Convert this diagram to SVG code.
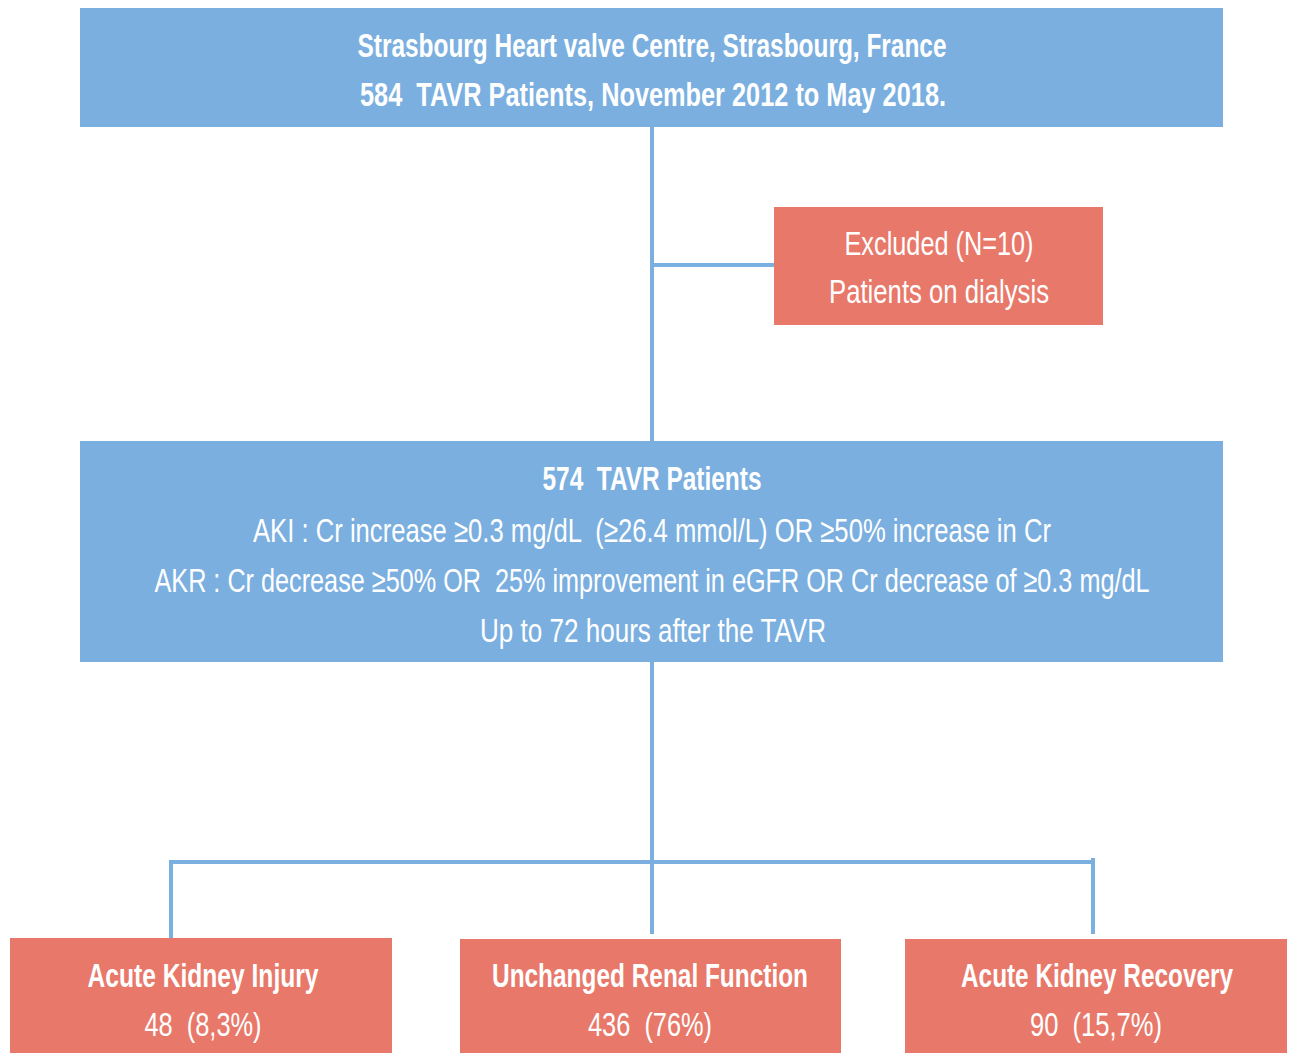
<svg xmlns="http://www.w3.org/2000/svg" width="1290" height="1053" viewBox="0 0 1290 1053">
<style>
.blue{fill:#7BAFDF}
.red{fill:#E8796A}
.t{font-family:"Liberation Sans",Arial,sans-serif;font-size:26px;fill:#fff;text-anchor:middle;white-space:pre}
.b{font-weight:bold}
.c{stroke:#7BAFDF;stroke-width:4;fill:none}
</style>
<rect width="1290" height="1053" fill="#fff"/>
<g id="connectors">
<line class="c" x1="652" y1="127" x2="652" y2="442"/>
<line class="c" x1="652" y1="265" x2="775" y2="265"/>
<line class="c" x1="652" y1="662" x2="652" y2="934"/>
<line class="c" x1="169" y1="862" x2="1094" y2="862" stroke-width="5"/>
<line class="c" x1="171" y1="860" x2="171" y2="939"/>
<line class="c" x1="1093" y1="858" x2="1093" y2="934"/>
</g>
<g id="top">
<rect class="blue" x="80" y="8" width="1143" height="119"/>
<text class="t b" transform="matrix(1,0,0,1.3,652,57)" textLength="589" lengthAdjust="spacingAndGlyphs">Strasbourg Heart valve Centre, Strasbourg, France</text>
<text class="t b" transform="matrix(1,0,0,1.3,653,106)" textLength="586" lengthAdjust="spacingAndGlyphs">584  TAVR Patients, November 2012 to May 2018.</text>
</g>
<g id="excluded">
<rect class="red" x="774" y="207" width="329" height="118"/>
<text class="t" transform="matrix(1,0,0,1.3,939,255)" textLength="189" lengthAdjust="spacingAndGlyphs">Excluded (N=10)</text>
<text class="t" transform="matrix(1,0,0,1.3,939,303)" textLength="220" lengthAdjust="spacingAndGlyphs">Patients on dialysis</text>
</g>
<g id="middle">
<rect class="blue" x="80" y="441" width="1143" height="221"/>
<text class="t b" transform="matrix(1,0,0,1.3,652,490)" textLength="219" lengthAdjust="spacingAndGlyphs">574  TAVR Patients</text>
<text class="t" transform="matrix(1,0,0,1.3,652,542)" textLength="798" lengthAdjust="spacingAndGlyphs">AKI : Cr increase ≥0.3 mg/dL  (≥26.4 mmol/L) OR ≥50% increase in Cr</text>
<text class="t" transform="matrix(1,0,0,1.3,652,592)" textLength="995" lengthAdjust="spacingAndGlyphs">AKR : Cr decrease ≥50% OR  25% improvement in eGFR OR Cr decrease of ≥0.3 mg/dL</text>
<text class="t" transform="matrix(1,0,0,1.3,653,642)" textLength="346" lengthAdjust="spacingAndGlyphs">Up to 72 hours after the TAVR</text>
</g>
<g id="aki">
<rect class="red" x="10" y="938" width="382" height="115"/>
<text class="t b" transform="matrix(1,0,0,1.3,203,987)" textLength="231" lengthAdjust="spacingAndGlyphs">Acute Kidney Injury</text>
<text class="t" transform="matrix(1,0,0,1.3,203,1036)" textLength="117" lengthAdjust="spacingAndGlyphs">48  (8,3%)</text>
</g>
<g id="unchanged">
<rect class="red" x="460" y="939" width="381" height="114"/>
<text class="t b" transform="matrix(1,0,0,1.3,650,987)" textLength="316" lengthAdjust="spacingAndGlyphs">Unchanged Renal Function</text>
<text class="t" transform="matrix(1,0,0,1.3,650,1036)" textLength="124" lengthAdjust="spacingAndGlyphs">436  (76%)</text>
</g>
<g id="akr">
<rect class="red" x="905" y="939" width="382" height="114"/>
<text class="t b" transform="matrix(1,0,0,1.3,1097,987)" textLength="272" lengthAdjust="spacingAndGlyphs">Acute Kidney Recovery</text>
<text class="t" transform="matrix(1,0,0,1.3,1096,1036)" textLength="132" lengthAdjust="spacingAndGlyphs">90  (15,7%)</text>
</g>
</svg>
